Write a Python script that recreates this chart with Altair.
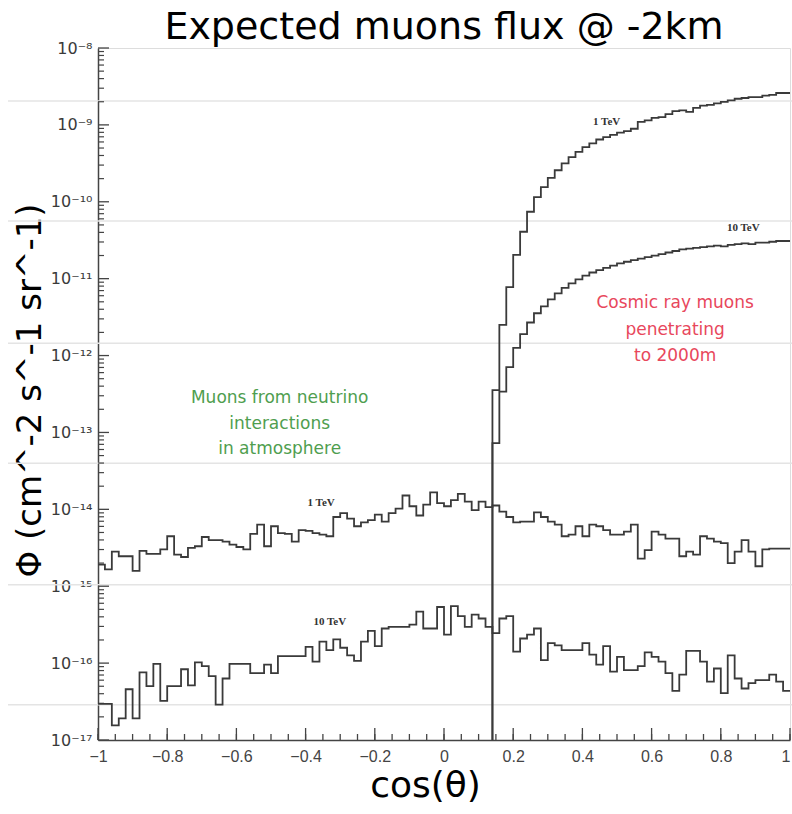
import altair as alt
import pandas as pd

# cos(theta) binning: 100 bins of width 0.02 on [-1, 1]
N_BINS = 100
BIN_W = 0.02
X_MIN, X_MAX = -1.0, 1.0

# log10 of the flux per bin (cm^-2 s^-1 sr^-1)
# muons from atmospheric neutrino interactions, E > 1 TeV
nu_1tev_log10 = [
    -14.72, -14.78, -14.55, -14.61, -14.61, -14.80, -14.54, -14.58, -14.58, -14.52,
    -14.35, -14.59, -14.62, -14.50, -14.48, -14.36, -14.40, -14.40, -14.42, -14.46,
    -14.49, -14.52, -14.32, -14.20, -14.48, -14.22, -14.31, -14.32, -14.42, -14.27,
    -14.28, -14.31, -14.33, -14.35, -14.10, -14.05, -14.12, -14.22, -14.17, -14.14,
    -14.07, -14.16, -14.05, -13.99, -13.82, -13.96, -14.08, -13.94, -13.78, -13.92,
    -13.96, -13.88, -13.80, -13.90, -14.01, -13.90, -13.97, -13.95, -14.03, -14.10,
    -14.17, -14.16, -14.16, -14.04, -14.10, -14.16, -14.20, -14.35, -14.33, -14.22,
    -14.35, -14.20, -14.22, -14.27, -14.33, -14.33, -14.29, -14.20, -14.64, -14.53,
    -14.29, -14.33, -14.38, -14.38, -14.61, -14.55, -14.59, -14.35, -14.38, -14.42,
    -14.44, -14.70, -14.55, -14.40, -14.55, -14.74, -14.52, -14.51, -14.51, -14.51,
]

# muons from atmospheric neutrino interactions, E > 10 TeV
nu_10tev_log10 = [
    -16.53, -16.53, -16.81, -16.72, -16.34, -16.72, -16.12, -16.30, -16.01, -16.49,
    -16.30, -16.30, -16.08, -16.29, -15.99, -16.04, -16.17, -16.54, -16.20, -16.01,
    -16.01, -16.01, -16.13, -16.13, -16.02, -16.13, -15.91, -15.91, -15.91, -15.91,
    -15.79, -15.98, -15.72, -15.83, -15.69, -15.80, -15.90, -15.97, -15.72, -15.58,
    -15.78, -15.55, -15.53, -15.53, -15.53, -15.50, -15.33, -15.55, -15.55, -15.27,
    -15.63, -15.26, -15.39, -15.53, -15.37, -15.42, -15.53, -15.61, -15.42, -15.39,
    -15.85, -15.68, -15.63, -15.55, -15.96, -15.74, -15.77, -15.83, -15.83, -15.83,
    -15.74, -15.89, -16.02, -15.78, -16.11, -15.92, -16.09, -16.09, -16.04, -15.86,
    -15.92, -15.98, -16.13, -16.36, -16.15, -15.84, -15.84, -15.98, -16.24, -16.07,
    -16.39, -15.90, -16.20, -16.33, -16.26, -16.22, -16.22, -16.15, -16.24, -16.36,
]

# cosmic-ray muons reaching 2000 m; non-zero only from this bin on (cos(theta) = 0.14)
COSMIC_FIRST_BIN = 57

cosmic_1tev_log10 = [
    -12.45, -11.60, -11.11, -10.69, -10.39, -10.13, -9.94, -9.81, -9.69, -9.59,
    -9.50, -9.42, -9.35, -9.29, -9.24, -9.19, -9.16, -9.13, -9.10, -9.08,
    -9.05, -8.96, -8.94, -8.91, -8.90, -8.86, -8.82, -8.81, -8.83, -8.78,
    -8.75, -8.74, -8.72, -8.70, -8.68, -8.66, -8.65, -8.64, -8.64, -8.62,
    -8.61, -8.585, -8.585,
]

cosmic_10tev_log10 = [
    -13.14, -12.47, -12.15, -11.90, -11.72, -11.57, -11.45, -11.36, -11.27, -11.19,
    -11.12, -11.06, -11.01, -10.96, -10.92, -10.89, -10.86, -10.83, -10.80, -10.78,
    -10.76, -10.74, -10.72, -10.70, -10.68, -10.66, -10.64, -10.62, -10.61, -10.60,
    -10.59, -10.58, -10.57, -10.58, -10.56, -10.55, -10.54, -10.55, -10.53, -10.53,
    -10.52, -10.51, -10.51,
]

# axis ticks / labels
x_label_values = [-1, -0.8, -0.6, -0.4, -0.2, 0, 0.2, 0.4, 0.6, 0.8, 1]
x_minor_values = [round(-1 + 0.05 * i, 2) for i in range(41)]
y_decades = list(range(-17, -7))
y_label_text = ["10⁻¹⁷", "10⁻¹⁶", "10⁻¹⁵", "10⁻¹⁴", "10⁻¹³",
                "10⁻¹²", "10⁻¹¹", "10⁻¹⁰", "10⁻⁹", "10⁻⁸"]

# faint horizontal rules of the slide background (log10 flux levels)
background_rules_log10 = [-8.69, -10.25, -11.84, -13.40, -14.98, -16.54]

# curve labels: text, cos(theta), log10 flux
curve_labels = ["1 TeV", "10 TeV", "1 TeV", "10 TeV"]
curve_label_x = [0.47, 0.865, -0.355, -0.33]
curve_label_log10 = [-8.96, -10.34, -13.92, -15.46]

nu_note = ["Muons from neutrino", "interactions", "in atmosphere"]
nu_note_x = -0.475
nu_note_log10 = [-12.55, -12.89, -13.22]

cosmic_note = ["Cosmic ray muons", "penetrating", "to 2000m"]
cosmic_note_x = 0.668
cosmic_note_log10 = [-11.32, -11.67, -12.0]

W, H = 692, 692
Y_FLOOR = 1e-17
LINE_COLOR = "#3a3a3a"


def step_rows(name, first_bin, values, start_at_floor=False):
    rows = []
    order = 0
    if start_at_floor:
        rows.append({"series": name, "x": X_MIN + first_bin * BIN_W, "flux": Y_FLOOR, "o": order})
        order += 1
    for i, v in enumerate(values):
        k = first_bin + i
        rows.append({"series": name, "x": round(X_MIN + k * BIN_W, 4), "flux": 10 ** v, "o": order})
        order += 1
    rows.append({"series": name, "x": X_MAX, "flux": 10 ** values[-1], "o": order})
    return rows


rows = []
rows += step_rows("nu 1 TeV", 0, nu_1tev_log10)
rows += step_rows("nu 10 TeV", 0, nu_10tev_log10)
rows += step_rows("cosmic 1 TeV", COSMIC_FIRST_BIN, cosmic_1tev_log10, start_at_floor=True)
rows += step_rows("cosmic 10 TeV", COSMIC_FIRST_BIN, cosmic_10tev_log10, start_at_floor=True)
hist = pd.DataFrame(rows)

x_scale = alt.Scale(domain=[X_MIN, X_MAX], nice=False, zero=False)
y_scale = alt.Scale(type="log", domain=[1e-17, 1e-8], nice=False)

label_expr = "[" + ",".join("'%s'" % t for t in y_label_text) + "][round(log(datum.value)/LN10) + 17]"

x_axis = alt.Axis(
    title="cos(θ)", values=x_label_values, format="~g", grid=False, ticks=False,
    labelFont="Liberation Sans", labelFontSize=16, labelColor="#444", labelPadding=8,
    labelOverlap=False, labelFlush=False,
    labelAlign={"condition": {"test": "datum.value === 1", "value": "right"}, "value": "center"},
    domainColor="#444", domainWidth=1.5,
    titleFont="DejaVu Sans", titleFontSize=36, titleFontWeight="normal", titleColor="black",
    titleX=327, titleY=56, titleBaseline="alphabetic", titleAlign="center",
)
y_axis = alt.Axis(
    title="Φ (cm^-2 s^-1 sr^-1)", values=[10.0 ** d for d in y_decades], labelExpr=label_expr,
    grid=False, ticks=False,
    labelFont="DejaVu Sans", labelFontSize=16, labelColor="#3a3a3a", labelPadding=6,
    labelOverlap=False, labelFlush=False,
    domainColor="#444", domainWidth=1.5,
    titleFont="DejaVu Sans", titleFontSize=34, titleFontWeight="normal", titleColor="black",
    titleAngle=270, titleX=-68, titleY=342, titleAlign="center", titleBaseline="middle",
)

# background rules across the whole slide width
bg = alt.Chart(pd.DataFrame({"flux": [10 ** v for v in background_rules_log10]})).mark_rule(
    color="#e4e4e4", strokeWidth=1.5
).encode(
    y=alt.Y("flux:Q", scale=y_scale, axis=y_axis),
    x=alt.value(-90),
    x2=alt.value(W + 2),
)

lines = alt.Chart(hist).mark_line(
    interpolate="step-after", color=LINE_COLOR, strokeWidth=1.8, clip=True
).encode(
    x=alt.X("x:Q", scale=x_scale, axis=x_axis),
    y=alt.Y("flux:Q", scale=y_scale),
    detail="series:N",
    order="o:Q",
)

# inward ticks on the x axis
x_major = alt.Chart(pd.DataFrame({"x": x_label_values})).mark_rule(
    color="#444", strokeWidth=1.3
).encode(x=alt.X("x:Q", scale=x_scale), y=alt.value(H), y2=alt.value(H - 12))

x_minor = alt.Chart(pd.DataFrame({"x": x_minor_values})).mark_rule(
    color="#444", strokeWidth=1.3
).encode(x=alt.X("x:Q", scale=x_scale), y=alt.value(H), y2=alt.value(H - 6))

# inward ticks on the y axis (decades and 2..9 sub-decades)
y_major = alt.Chart(pd.DataFrame({"flux": [10.0 ** d for d in y_decades]})).mark_rule(
    color="#444", strokeWidth=1.3
).encode(y=alt.Y("flux:Q", scale=y_scale), x=alt.value(0), x2=alt.value(11))

y_minor_vals = [m * 10.0 ** d for d in y_decades[:-1] for m in range(2, 10)]
y_minor = alt.Chart(pd.DataFrame({"flux": y_minor_vals})).mark_rule(
    color="#444", strokeWidth=1.2
).encode(y=alt.Y("flux:Q", scale=y_scale), x=alt.value(0), x2=alt.value(6))

# curve labels
lab_df = pd.DataFrame({
    "t": curve_labels,
    "x": curve_label_x,
    "flux": [10 ** v for v in curve_label_log10],
})
labels = alt.Chart(lab_df).mark_text(
    font="Liberation Serif", fontSize=11, fontWeight="bold", color="#333"
).encode(x=alt.X("x:Q", scale=x_scale), y=alt.Y("flux:Q", scale=y_scale), text="t:N")

nu_df = pd.DataFrame({"t": nu_note, "x": [nu_note_x] * 3, "flux": [10 ** v for v in nu_note_log10]})
nu_text = alt.Chart(nu_df).mark_text(
    font="DejaVu Sans", fontSize=17, color="#4f9e4f"
).encode(x=alt.X("x:Q", scale=x_scale), y=alt.Y("flux:Q", scale=y_scale), text="t:N")

cr_df = pd.DataFrame({"t": cosmic_note, "x": [cosmic_note_x] * 3, "flux": [10 ** v for v in cosmic_note_log10]})
cr_text = alt.Chart(cr_df).mark_text(
    font="DejaVu Sans", fontSize=17, color="#e8475c"
).encode(x=alt.X("x:Q", scale=x_scale), y=alt.Y("flux:Q", scale=y_scale), text="t:N")

chart = alt.layer(
    bg, y_minor, y_major, x_minor, x_major, lines, labels, nu_text, cr_text
).properties(
    width=W,
    height=H,
    autosize="none",
    padding={"left": 98, "top": 48, "right": 2, "bottom": 74},
    title=alt.TitleParams(
        "Expected muons flux @ -2km", font="DejaVu Sans", fontSize=38,
        fontWeight="normal", color="black", anchor="middle", frame="group",
        baseline="alphabetic", offset=10, dy=47,
    ),
).configure_view(
    stroke="#555", strokeWidth=1.5
).configure(background="white")

chart.save("out.html", embed_options={"renderer": "svg", "actions": False})
